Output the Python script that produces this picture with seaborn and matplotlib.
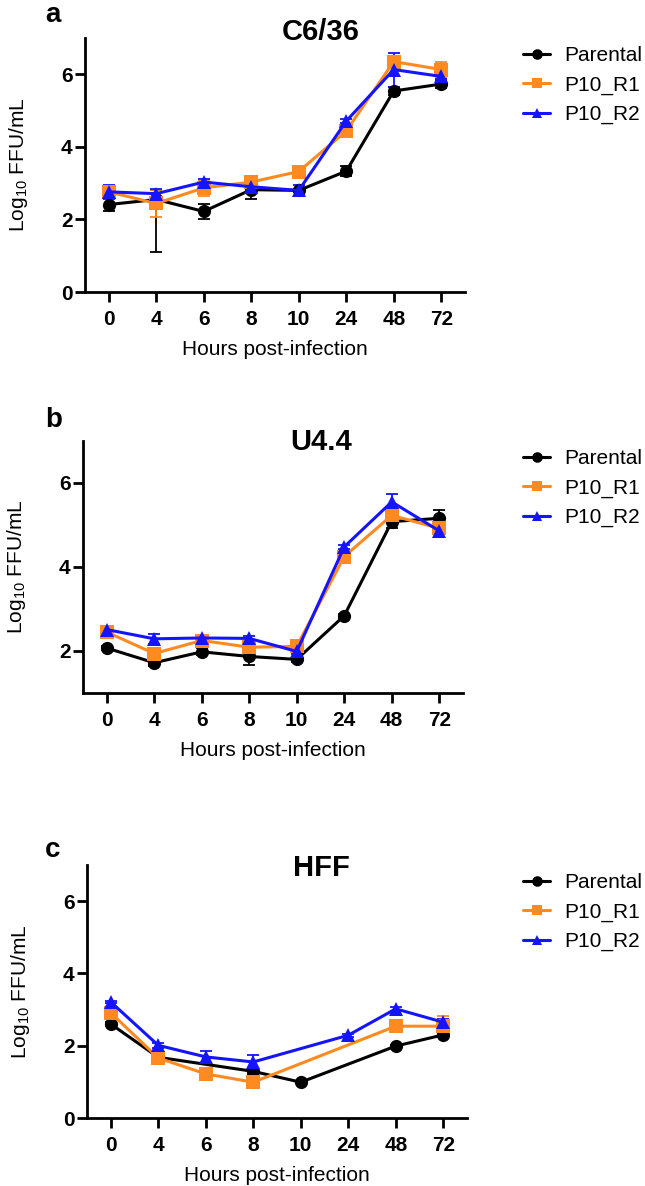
import numpy as np
import pandas as pd
import seaborn as sns
import matplotlib.pyplot as plt

sns.set_style("ticks")
plt.rcParams['font.family'] = ['Liberation Sans', 'DejaVu Sans']
plt.rcParams['mathtext.default'] = 'regular'
plt.rcParams['text.color'] = 'black'
plt.rcParams['axes.labelcolor'] = 'black'

# x categories (hours post-infection) and strains
hours = ["0", "4", "6", "8", "10", "24", "48", "72"]
strains = ["Parental", "P10_R1", "P10_R2"]
colors = {"Parental": "black", "P10_R1": "#FF8A1F", "P10_R2": "#1414FF"}
markers = {"Parental": "o", "P10_R1": "s", "P10_R2": "^"}
nan = np.nan

# C6/36 (Log10 FFU/mL, mean and SD)
c636_parental = [2.41, 2.55, 2.22, 2.82, 2.80, 3.33, 5.54, 5.73]
c636_r1 = [2.76, 2.44, 2.87, 3.03, 3.32, 4.44, 6.35, 6.13]
c636_r2 = [2.76, 2.71, 3.03, 2.90, 2.80, 4.71, 6.13, 5.94]
c636_parental_sd = [0.18, 0.27, 0.20, 0.26, 0.05, 0.14, 0.10, 0.12]
c636_parental_sd_low = [0.18, 1.46, 0.20, 0.26, 0.05, 0.14, 0.10, 0.12]
c636_r1_sd = [0.10, 0.37, 0.23, 0.08, 0.06, 0.10, 0.08, 0.22]
c636_r2_sd = [0.20, 0.13, 0.08, 0.08, 0.16, 0.06, 0.47, 0.08]

# U4.4
u44_parental = [2.07, 1.72, 1.98, 1.87, 1.80, 2.84, 5.08, 5.16]
u44_r1 = [2.45, 1.94, 2.25, 2.09, 2.11, 4.25, 5.23, 4.92]
u44_r2 = [2.51, 2.29, 2.31, 2.30, 1.99, 4.48, 5.55, 4.86]
u44_parental_sd = [0.05, 0.08, 0.08, 0.20, 0.05, 0.05, 0.15, 0.20]
u44_r1_sd = [0.05, 0.10, 0.08, 0.08, 0.06, 0.15, 0.10, 0.08]
u44_r2_sd = [0.05, 0.12, 0.05, 0.06, 0.06, 0.05, 0.20, 0.08]

# HFF (missing points are not plotted)
hff_parental = [2.60, 1.68, nan, 1.29, 0.99, nan, 1.99, 2.30]
hff_r1 = [2.91, 1.66, 1.22, 0.99, nan, nan, 2.54, 2.54]
hff_r2 = [3.21, 2.01, 1.69, 1.55, nan, 2.29, 3.02, 2.65]
hff_parental_sd = [0.06, 0.05, 0.0, 0.08, 0.03, 0.0, 0.04, 0.06]
hff_r1_sd = [0.08, 0.08, 0.12, 0.05, 0.0, 0.0, 0.15, 0.28]
hff_r2_sd = [0.04, 0.06, 0.16, 0.20, 0.0, 0.04, 0.05, 0.10]

# letter, title, y-min, series, errors, axes box (px), letter/title baselines (px)
panels = [
    ("a", "C6/36", 0, [c636_parental, c636_r1, c636_r2],
     [(c636_parental_sd_low, c636_parental_sd), (c636_r1_sd, c636_r1_sd), (c636_r2_sd, c636_r2_sd)],
     (85, 38, 465, 292), 22, 40),
    ("b", "U4.4", 1, [u44_parental, u44_r1, u44_r2],
     [(u44_parental_sd, u44_parental_sd), (u44_r1_sd, u44_r1_sd), (u44_r2_sd, u44_r2_sd)],
     (83, 441, 463, 693), 427, 450),
    ("c", "HFF", 0, [hff_parental, hff_r1, hff_r2],
     [(hff_parental_sd, hff_parental_sd), (hff_r1_sd, hff_r1_sd), (hff_r2_sd, hff_r2_sd)],
     (87, 865, 467, 1118), 857, 876),
]

W, H = 645, 1186
fig = plt.figure(figsize=(W / 100, H / 100), dpi=100)

for letter, title, ymin, series, errs, (l, t, r, b), let_y, tit_y in panels:
    ax = fig.add_axes([l / W, 1 - b / H, (r - l) / W, (b - t) / H])
    pos = np.arange(len(hours))
    df = pd.concat([
        pd.DataFrame({"pos": pos, "value": vals, "strain": s})
        for s, vals in zip(strains, series)
    ]).dropna()

    # error bars first, beneath the lines
    for k, (s, vals, (lo, hi)) in enumerate(zip(strains, series, errs)):
        v = np.array(vals)
        ok = ~np.isnan(v)
        ax.errorbar(pos[ok], v[ok], yerr=[np.array(lo)[ok], np.array(hi)[ok]],
                    fmt="none", ecolor=colors[s], elinewidth=1.3,
                    capsize=4, capthick=1.3, zorder=1 + k)

    sns.lineplot(data=df, x="pos", y="value", hue="strain", style="strain",
                 hue_order=strains, style_order=strains, palette=colors,
                 markers=markers, dashes=False, markersize=9.5,
                 markeredgewidth=0, linewidth=2.2, errorbar=None, ax=ax)
    for k, line in enumerate(ax.lines):
        line.set_zorder(5 + k)

    ax.set_xlim(-0.5, len(hours) - 0.5)
    ax.set_ylim(ymin, 7)
    ax.set_xticks(pos, hours)
    ax.set_yticks([y for y in [0, 2, 4, 6] if y >= ymin])
    ax.tick_params(axis="both", direction="out", length=7, width=2,
                   labelsize=15, colors="black")
    ax.tick_params(axis="x", pad=6)
    ax.tick_params(axis="y", pad=2)
    for lab in ax.get_xticklabels() + ax.get_yticklabels():
        lab.set_fontweight("bold")
    for sp in ["left", "bottom"]:
        ax.spines[sp].set_linewidth(2)
        ax.spines[sp].set_color("black")
    sns.despine(ax=ax)

    ax.set_xlabel("Hours post-infection", fontsize=15, labelpad=8)
    ax.set_ylabel("Log$_{10}$ FFU/mL", fontsize=15)
    ax.yaxis.set_label_coords(-0.145, 0.5)

    sns.move_legend(ax, "upper left", bbox_to_anchor=(523 / W, 1 - (t + 8) / H),
                    bbox_transform=fig.transFigure, frameon=False, title=None,
                    fontsize=15, handlelength=1.3, handletextpad=0.7,
                    labelspacing=0.5, borderpad=0, borderaxespad=0,
                    markerscale=0.8, labelcolor="black")

    fig.text(321 / W, 1 - tit_y / H, title, fontsize=21, fontweight="bold",
             ha="center", va="baseline", color="black")
    fig.text(45 / W, 1 - let_y / H, letter, fontsize=20, fontweight="bold",
             ha="left", va="baseline", color="black")

fig.savefig("out.png", dpi=100)
